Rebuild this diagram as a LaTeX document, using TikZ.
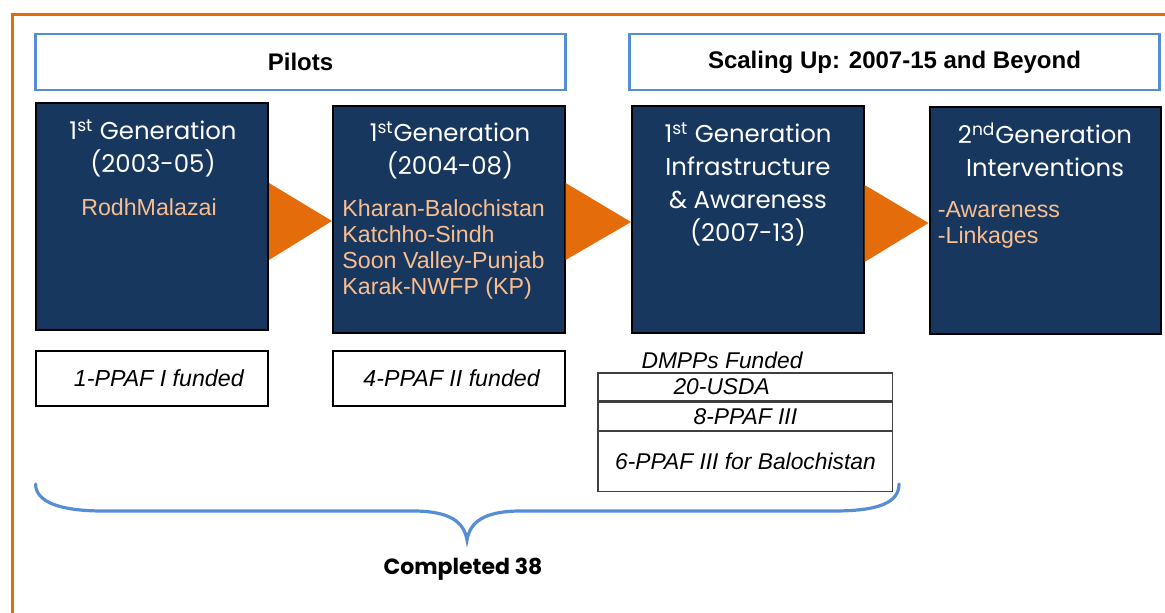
\documentclass[tikz,border=0pt]{standalone}
\usepackage{fontspec}
\setmainfont{Liberation Sans}
\newfontfamily\handfont{Poppins}
\usetikzlibrary{positioning}

\definecolor{navy}{HTML}{17375E}
\definecolor{frameorange}{HTML}{E46C0A}
\definecolor{peach}{HTML}{F9BE8F}
\definecolor{headblue}{HTML}{558ED5}
\definecolor{cellgray}{HTML}{404040}

\begin{document}
\begin{tikzpicture}[x=0.5pt,y=-0.5pt,
  headbox/.style={draw=headblue,line width=1.4pt,fill=white,minimum width=265pt,minimum height=28pt,
    font=\bfseries\fontsize{12}{14}\selectfont},
  genbox/.style={draw=black,line width=1pt,fill=navy,minimum width=115.8pt,minimum height=113.5pt},
  gentext/.style={anchor=north,inner sep=0pt,align=center,text=white,
    font=\handfont\fontsize{12.2}{16.5}\selectfont},
  sitetext/.style={anchor=north west,inner sep=0pt,align=left,text=peach,
    font=\fontsize{11.6}{13}\selectfont},
  fundbox/.style={draw=black,line width=1pt,minimum width=115.8pt,minimum height=27.5pt,
    font=\itshape\fontsize{11.6}{13}\selectfont},
  cell/.style={draw=cellgray,line width=0.7pt,minimum width=147.3pt,inner sep=0pt,
    font=\itshape\fontsize{11.4}{13}\selectfont},
  arrowfill/.style={fill=frameorange},
  brace/.style={draw=headblue,line width=1.6pt,line cap=round}]

\useasboundingbox (0,0) rectangle (1165,613);
% outer frame, only top and left edges fall on the page
\draw[frameorange,line width=1.5pt] (12.6,15) rectangle (1180,630);

% phase headers
\node[headbox] (pilots) at (300.5,62) {Pilots};
\node[headbox] (scaling) at (894.5,62) {Scaling Up: 2007-15 and Beyond};

% generation boxes
\node[genbox] (g1) at (152.2,216.5) {};
\node[genbox] (g2) at (448.8,219.5) {};
\node[genbox] (g3) at (747.8,219.5) {};
\node[genbox] (g4) at (1045.3,220.5) {};

\node[gentext] (t1) at (153,119) {1\textsuperscript{st} Generation\\(2003-05)};
\node[sitetext,anchor=north] (s1) at (149,198) {RodhMalazai};

\node[gentext] (t2) at (450,121) {1\textsuperscript{st}Generation\\(2004-08)};
\node[sitetext] (s2) at (342,199) {Kharan-Balochistan\\Katchho-Sindh\\Soon Valley-Punjab\\Karak-NWFP (KP)};

\node[gentext] (t3) at (748,122) {1\textsuperscript{st} Generation\\Infrastructure\\\& Awareness\\(2007-13)};

\node[gentext] (t4) at (1045,122) {2\textsuperscript{nd}Generation\\Interventions};
\node[sitetext] (s4) at (937.5,201) {-Awareness\\-Linkages};

% arrows between generations
\fill[arrowfill] (g1.east |- 0,183) -- (g2.west |- 0,221) -- (g1.east |- 0,260) -- cycle;
\fill[arrowfill] (g2.east |- 0,183) -- (g3.west |- 0,222) -- (g2.east |- 0,260) -- cycle;
\fill[arrowfill] (g3.east |- 0,185) -- (g4.west |- 0,223) -- (g3.east |- 0,262) -- cycle;

% funding
\node[fundbox] (f1) at (152.2,378.5) {\hspace*{6.6pt}1-PPAF I funded};
\node[fundbox] (f2) at (448.8,378.5) {\hspace*{2.8pt}4-PPAF II funded};

\node[font=\itshape\fontsize{11.4}{13}\selectfont,inner sep=0pt] (dmpp) at (722,360) {DMPPs Funded};
\node[cell,minimum height=14pt] (r1) at (745.4,387) {20-USDA\hspace*{23.7pt}};
\node[cell,minimum height=14pt,below=0pt of r1] (r2) {8-PPAF III};
\node[cell,minimum height=30pt,below=0pt of r2] (r3) {6-PPAF III for Balochistan};

% brace under the pilots and first scale-up
\draw[brace] (35.6,484) .. controls (35.6,502) and (60,511) .. (103,511) -- (413,511)
  .. controls (450,511) and (464,522) .. (467,540)
  .. controls (470,522) and (484,511) .. (521,511) -- (834,511)
  .. controls (880,511) and (899,502) .. (899,484);
\node[font=\handfont\bfseries\fontsize{11}{13}\selectfont] (done) at (463,569) {Completed 38};

\end{tikzpicture}
\end{document}
